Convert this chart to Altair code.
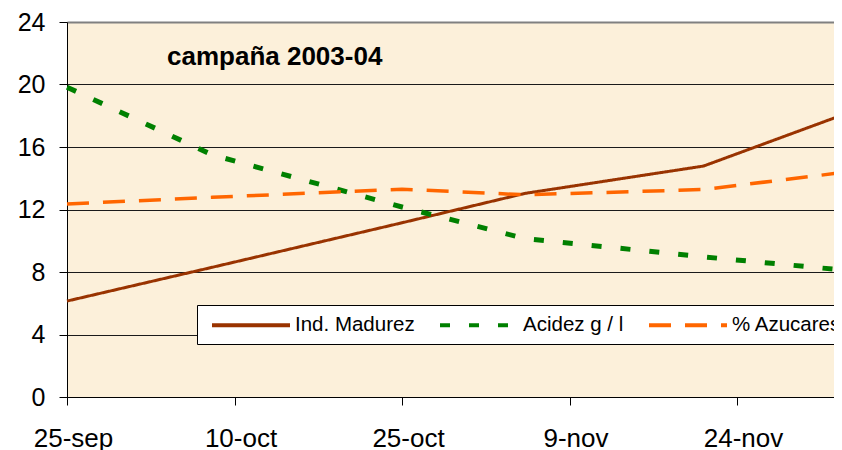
import json
import altair as alt
import pandas as pd

# ---- data ----
fechas = ["2003-09-25T00:00:00Z", "2003-10-08T00:00:00Z", "2003-10-25T00:00:00Z",
          "2003-11-05T00:00:00Z", "2003-11-21T00:00:00Z", "2003-12-03T09:36:00Z"]
madurez = [6.14, 8.30, 11.15, 13.03, 14.78, 18.04]
acidez = [19.83, 15.50, 12.16, 10.14, 8.97, 8.13]
azucares = [12.35, 12.78, 13.30, 12.94, 13.28, 14.36]

series_names = ["Ind. Madurez", "Acidez g / l", "% Azucares"]
series_values = [madurez, acidez, azucares]

y_ticks = [0, 4, 8, 12, 16, 20, 24]
x_tick_labels = ["25-sep", "10-oct", "25-oct", "9-nov", "24-nov"]
x_tick_dates = [(2003, 9, 25), (2003, 10, 10), (2003, 10, 25), (2003, 11, 9), (2003, 11, 24)]
titulo = "campaña 2003-04"

# ---- styles ----
colors = ["#993300", "#008000", "#FF6600"]
dashes = [[1, 0], [10, 19], [22, 14]]
FONT = "Liberation Sans"

rows = []
for name, vals in zip(series_names, series_values):
    for f, v in zip(fechas, vals):
        rows.append({"fecha": f, "valor": v, "serie": name})
df = pd.DataFrame(rows)

tick_values = [alt.DateTime(year=y, month=m, date=d, utc=True) for (y, m, d) in x_tick_dates]
start_ms = int(pd.Timestamp("2003-09-25", tz="UTC").value // 10**6)
label_expr = f"{json.dumps(x_tick_labels)}[round((datum.value - {start_ms}) / {15 * 86400000})]"

legend = alt.Legend(
    title=None, orient="none", legendX=130, legendY=283,
    direction="horizontal", columns=3, columnPadding=17,
    symbolType="M-0.5,0L7.3,0", symbolSize=400, symbolStrokeWidth=4,
    labelOffset=66, labelFont=FONT, labelFontSize=20.5, labelColor="black",
    labelLimit=400, fillColor="white", strokeColor="black", padding=8,
)

chart = alt.Chart(df).mark_line(strokeCap="butt").encode(
    x=alt.X("fecha:T",
            scale=alt.Scale(type="utc", nice=False, domain=[
                alt.DateTime(year=2003, month=9, date=25, utc=True),
                alt.DateTime(year=2003, month=12, date=3, hours=9, minutes=36, utc=True)]),
            axis=alt.Axis(values=tick_values, labelExpr=label_expr, title=None, grid=False,
                          labelFont=FONT, labelFontSize=26, labelColor="black",
                          labelPadding=20, labelOffset=6, labelFlush=False, labelOverlap=False,
                          tickSize=8, tickColor="black", tickWidth=1,
                          domainColor="black", domainWidth=1)),
    y=alt.Y("valor:Q",
            scale=alt.Scale(domain=[0, 24], nice=False),
            axis=alt.Axis(values=y_ticks, title=None, grid=True,
                          gridColor={"condition": {"test": "datum.value === 24", "value": "#808080"}, "value": "#1a1a1a"},
                          gridWidth={"condition": {"test": "datum.value === 24", "value": 2}, "value": 1},
                          labelFont=FONT, labelFontSize=25, labelColor="black", labelPadding=14,
                          tickSize=8, tickColor="black", tickWidth=1,
                          domainColor="black", domainWidth=1)),
    color=alt.Color("serie:N", scale=alt.Scale(domain=series_names, range=colors), legend=legend),
    strokeDash=alt.StrokeDash("serie:N", scale=alt.Scale(domain=series_names, range=dashes), legend=legend),
    strokeWidth=alt.when(alt.datum.serie == series_names[1]).then(alt.value(5))
                   .when(alt.datum.serie == series_names[2]).then(alt.value(3.5))
                   .otherwise(alt.value(3)),
).properties(
    width=775, height=375,
    title=alt.Title(titulo, anchor="start", frame="group", orient="top", dx=100, dy=81, offset=0,
                    baseline="alphabetic", font=FONT, fontSize=26, fontWeight="bold", color="black"),
    autosize=alt.AutoSizeParams(type="none"),
    padding={"left": 59, "top": 14, "right": -8, "bottom": 53},
    background="white",
).configure_view(fill="#FCF0DA", stroke=None)

chart.save("out.html", embed_options={"renderer": "svg", "actions": False})
